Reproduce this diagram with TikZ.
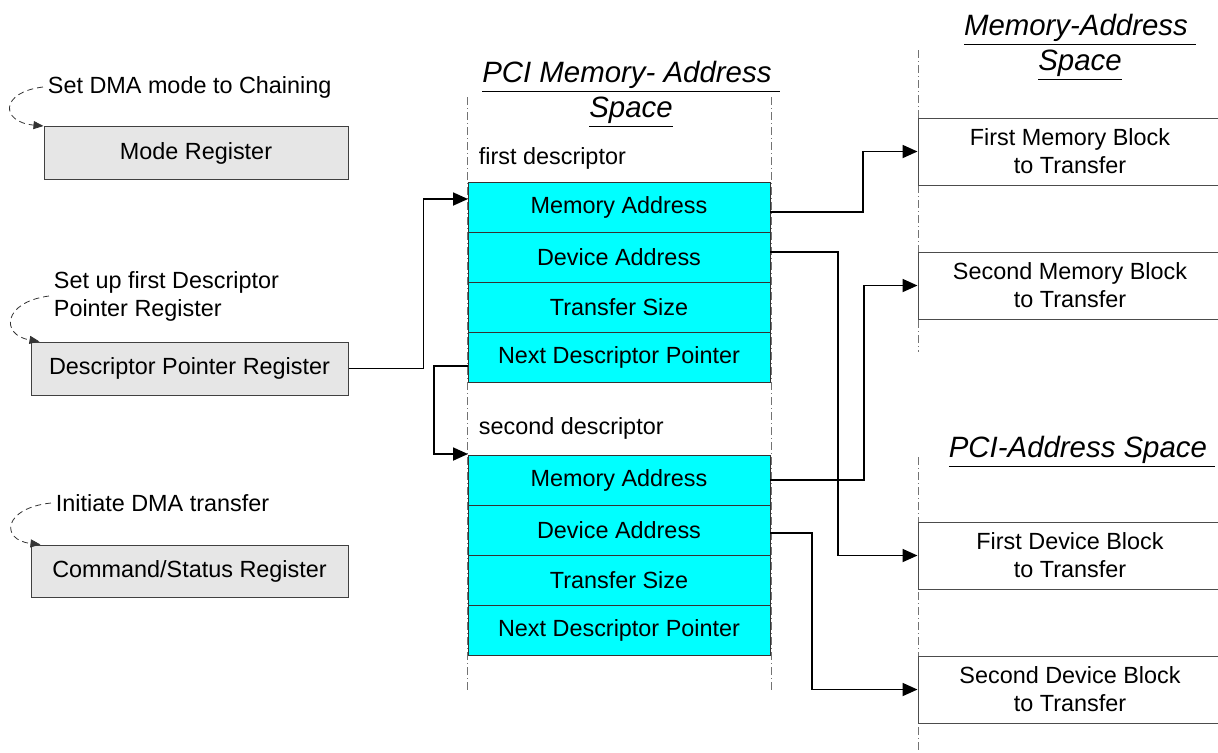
\documentclass[tikz,border=0pt]{standalone}
\usepackage{fontspec}
\setmainfont{Liberation Sans}
\usetikzlibrary{arrows.meta,positioning}
\definecolor{cellcyan}{RGB}{0,255,255}
\definecolor{reggray}{RGB}{230,230,230}

\begin{document}
\begin{tikzpicture}[x=0.5pt,y=-0.5pt,->,>={Triangle[length=7.5pt,width=6.5pt]},
      line width=0.9pt,font=\fontsize{11.7}{14}\selectfont,
      reg node/.style={rectangle,draw=black!75,fill=reggray,line width=0.5pt,
          minimum height=26.5pt,inner sep=0pt},
      cell node/.style={rectangle,draw=black!80,fill=cellcyan,line width=0.5pt,
          minimum width=151pt,minimum height=25pt,inner sep=0pt,outer sep=0pt},
      block node/.style={rectangle,draw=black!70,fill=white,line width=0.5pt,
          minimum width=152pt,minimum height=33.5pt,align=center,inner sep=0pt},
      note node/.style={inner sep=2pt,align=left,anchor=west},
      head node/.style={font=\fontsize{14.7}{17.5}\selectfont\itshape,
          align=center,inner sep=0pt},
      space line/.style={-,line width=0.5pt,draw=black!55,
          dash pattern=on 4pt off 1.5pt on 0.5pt off 1.5pt},
      hint/.style={-{Triangle[length=5pt,width=4pt]},line width=0.4pt,
          densely dashed,draw=black!80}]

    \useasboundingbox (0,0) rectangle (1218,752);
    \clip (0,0) rectangle (1218,752);

    % address space borders
    \draw[space line] (467,97) -- (467,690);
    \draw[space line] (771,97) -- (771,690);
    \draw[space line] (918,50) -- (918,352);
    \draw[space line] (918,457) -- (918,752);

    % headings
    \node[head node] (pcimem) at (631,94) {\underline{PCI Memory- Address\ }\\\underline{Space}};
    \node[head node] (memsp) at (1080,47) {\underline{Memory-Address\ }\\\underline{Space}};
    \node[head node] (pcisp) at (1082,452) {\underline{PCI-Address Space\ }};

    % registers
    \node[reg node,minimum width=152pt] (mode) at (196,153) {Mode Register};
    \node[reg node,minimum width=158.5pt] (dpr) at (189.5,368.5) {Descriptor Pointer Register};
    \node[reg node,minimum width=158.5pt,minimum height=26pt] (csr) at (189.5,571) {Command/Status Register};

    \node[note node] (setmode) at (43,87) {Set DMA mode to Chaining};
    \node[note node] (setdpr) at (49,296) {Set up first Descriptor\\Pointer Register};
    \node[note node] (init) at (51,503) {Initiate DMA transfer};

    \draw[hint] (setmode.west) .. controls (0,92) and (0,122) .. (mode.north west);
    \draw[hint] (setdpr.west) .. controls (3,302) and (0,335) .. ([xshift=4.5pt]dpr.north west);
    \draw[hint] (init.west) .. controls (3,508) and (0,540) .. ([xshift=5pt]csr.north west);

    % descriptors
    \node[note node,inner sep=0pt] (fdesc) at (478,158) {first descriptor};
    \node[cell node] (ma1) at (619,207) {Memory Address};
    \node[cell node] (da1) [below=0pt of ma1] {Device Address};
    \node[cell node] (ts1) [below=0pt of da1] {Transfer Size};
    \node[cell node] (nd1) [below=0pt of ts1] {Next Descriptor Pointer};

    \node[note node,inner sep=0pt] (sdesc) at (478,428) {second descriptor};
    \node[cell node] (ma2) at (619,480) {Memory Address};
    \node[cell node] (da2) [below=0pt of ma2] {Device Address};
    \node[cell node] (ts2) [below=0pt of da2] {Transfer Size};
    \node[cell node] (nd2) [below=0pt of ts2] {Next Descriptor Pointer};

    % target blocks
    \node[block node] (fmb) at (1070,151.5) {First Memory Block\\to Transfer};
    \node[block node] (smb) at (1070,285.5) {Second Memory Block\\to Transfer};
    \node[block node] (fdb) at (1070,555.5) {First Device Block\\to Transfer};
    \node[block node] (sdb) at (1070,689.5) {Second Device Block\\to Transfer};

    % pointers
    \draw (dpr.east) -- ++(75,0) |- ([yshift=4pt]ma1.west);
    \draw ([yshift=-4.5pt]nd1.west) -- ++(-34,0) |- ([yshift=0.5pt]ma2.north west);
    \draw ([yshift=-2.5pt]ma1.east) -- ++(93,0) |- (fmb.west);
    \draw ([yshift=2.5pt]da1.east) -- ++(68,0) |- (fdb.west);
    \draw (ma2.east) -- ++(94,0) |- (smb.west);
    \draw ([yshift=-1.5pt]da2.east) -- ++(42,0) |- (sdb.west);

  \end{tikzpicture}
\end{document}
